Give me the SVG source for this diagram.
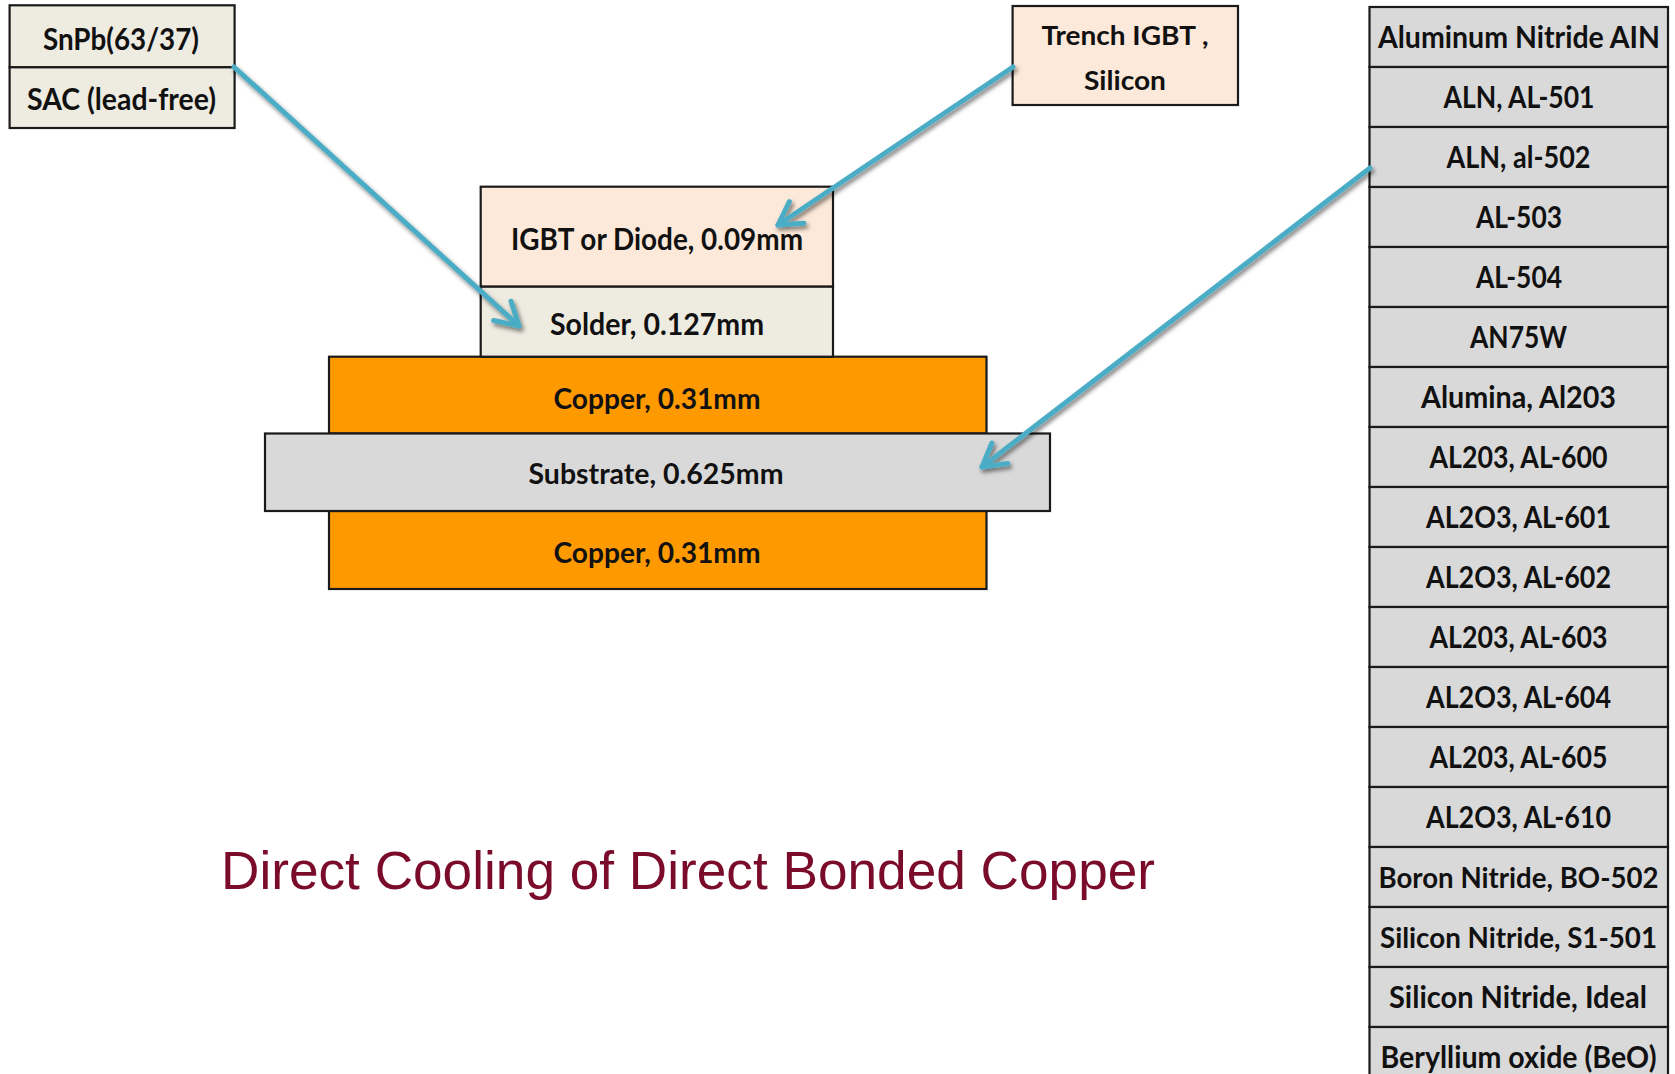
<svg xmlns="http://www.w3.org/2000/svg" width="1675" height="1074" viewBox="0 0 1675 1074">
<style>
  .box { stroke: #1a1a1a; stroke-width: 2.2; }
  .beige { fill: #eeece1; }
  .peach { fill: #fde9d9; }
  .copper { fill: #ff9900; }
  .grey { fill: #d9d9d9; }
  .lbl { font-family: Lato, "Liberation Sans", sans-serif; font-weight: 700; fill: #111; text-anchor: middle; }
  .f31 { font-size: 31px; }
  .f28 { font-size: 28px; }
  .f27 { font-size: 27px; }
  .f30 { font-size: 30px; }
  .f29 { font-size: 29px; }
  .conn { fill: none; stroke: #4bacc6; stroke-width: 5; stroke-linecap: round; }
  .title { font-family: "Liberation Sans", Arial, sans-serif; font-size: 53.5px; fill: #7a0b2a; }
</style>
<defs>
  <marker id="ah" markerUnits="userSpaceOnUse" markerWidth="60" markerHeight="60" viewBox="-30 -30 60 60" refX="0" refY="0" orient="auto" overflow="visible">
    <path d="M-22.5,-13 L0,0 L-22.5,13" fill="none" stroke="#4bacc6" stroke-width="5" stroke-linecap="round" stroke-linejoin="round"/>
  </marker>
  <filter id="shadow" x="-20%" y="-20%" width="140%" height="140%">
    <feDropShadow dx="2" dy="3" stdDeviation="2" flood-color="#000" flood-opacity="0.5"/>
  </filter>
</defs>
<rect x="0" y="0" width="1675" height="1074" fill="#fff"/>

<g id="solder-options">
  <rect class="box beige" x="9.6" y="5.3" width="225" height="62"/>
  <rect class="box beige" x="9.6" y="67.3" width="225" height="60.7"/>
  <text class="lbl f31" x="121" y="49.5" textLength="156" lengthAdjust="spacingAndGlyphs">SnPb(63/37)</text>
  <text class="lbl f31" x="121.5" y="110" textLength="189" lengthAdjust="spacingAndGlyphs">SAC (lead-free)</text>
</g>

<g id="trench-igbt">
  <rect class="box peach" x="1012.6" y="6" width="225.4" height="99"/>
  <text class="lbl f27" x="1125" y="45" textLength="167" lengthAdjust="spacingAndGlyphs">Trench IGBT ,</text>
  <text class="lbl f27" x="1125" y="90" textLength="82" lengthAdjust="spacingAndGlyphs">Silicon</text>
</g>

<g id="copper-top">
  <rect class="box copper" x="329" y="356.7" width="657.5" height="76.8"/>
  <text class="lbl f28" x="657" y="408.5" textLength="207" lengthAdjust="spacingAndGlyphs">Copper, 0.31mm</text>
</g>

<g id="copper-bottom">
  <rect class="box copper" x="329" y="511" width="657.5" height="78"/>
  <text class="lbl f28" x="657" y="563" textLength="207" lengthAdjust="spacingAndGlyphs">Copper, 0.31mm</text>
</g>

<g id="substrate">
  <rect class="box grey" x="265" y="433.5" width="785" height="77.5"/>
  <text class="lbl f28" x="656" y="484" textLength="255" lengthAdjust="spacingAndGlyphs">Substrate, 0.625mm</text>
</g>

<g id="igbt">
  <rect class="box peach" x="480.7" y="186.7" width="352.3" height="100"/>
  <text class="lbl f31" x="657" y="249.5" textLength="292" lengthAdjust="spacingAndGlyphs">IGBT or Diode, 0.09mm</text>
</g>

<g id="solder">
  <rect class="box beige" x="480.7" y="286.7" width="352.3" height="70"/>
  <text class="lbl f31" x="657" y="335" textLength="214" lengthAdjust="spacingAndGlyphs">Solder, 0.127mm</text>
</g>

<g id="substrate-materials">
  <g class="box grey">
    <rect x="1369.5" y="7" width="298.5" height="60"/>
    <rect x="1369.5" y="67" width="298.5" height="60"/>
    <rect x="1369.5" y="127" width="298.5" height="60"/>
    <rect x="1369.5" y="187" width="298.5" height="60"/>
    <rect x="1369.5" y="247" width="298.5" height="60"/>
    <rect x="1369.5" y="307" width="298.5" height="60"/>
    <rect x="1369.5" y="367" width="298.5" height="60"/>
    <rect x="1369.5" y="427" width="298.5" height="60"/>
    <rect x="1369.5" y="487" width="298.5" height="60"/>
    <rect x="1369.5" y="547" width="298.5" height="60"/>
    <rect x="1369.5" y="607" width="298.5" height="60"/>
    <rect x="1369.5" y="667" width="298.5" height="60"/>
    <rect x="1369.5" y="727" width="298.5" height="60"/>
    <rect x="1369.5" y="787" width="298.5" height="60"/>
    <rect x="1369.5" y="847" width="298.5" height="60"/>
    <rect x="1369.5" y="907" width="298.5" height="60"/>
    <rect x="1369.5" y="967" width="298.5" height="60"/>
    <rect x="1369.5" y="1027" width="298.5" height="60"/>
  </g>
  <g class="lbl f30">
    <text x="1519" y="47.5" textLength="282" lengthAdjust="spacingAndGlyphs">Aluminum Nitride AIN</text>
    <text x="1519" y="107.5" textLength="151" lengthAdjust="spacingAndGlyphs">ALN, AL-501</text>
    <text x="1518.5" y="167.5" textLength="144" lengthAdjust="spacingAndGlyphs">ALN, al-502</text>
    <text x="1519" y="227.5" textLength="86" lengthAdjust="spacingAndGlyphs">AL-503</text>
    <text x="1519" y="287.5" textLength="86" lengthAdjust="spacingAndGlyphs">AL-504</text>
    <text x="1518.5" y="347.5" textLength="97" lengthAdjust="spacingAndGlyphs">AN75W</text>
    <text x="1518.5" y="407.5" textLength="195" lengthAdjust="spacingAndGlyphs">Alumina, Al203</text>
    <text x="1518.5" y="467.5" textLength="178" lengthAdjust="spacingAndGlyphs">AL203, AL-600</text>
    <text x="1518.5" y="527.5" textLength="185" lengthAdjust="spacingAndGlyphs">AL2O3, AL-601</text>
    <text x="1518.5" y="587.5" textLength="185" lengthAdjust="spacingAndGlyphs">AL2O3, AL-602</text>
    <text x="1518.5" y="647.5" textLength="178" lengthAdjust="spacingAndGlyphs">AL203, AL-603</text>
    <text x="1518.5" y="707.5" textLength="185" lengthAdjust="spacingAndGlyphs">AL2O3, AL-604</text>
    <text x="1518.5" y="767.5" textLength="178" lengthAdjust="spacingAndGlyphs">AL203, AL-605</text>
    <text x="1518.5" y="827.5" textLength="185" lengthAdjust="spacingAndGlyphs">AL2O3, AL-610</text>
    <text class="f29" x="1518.5" y="887.5" textLength="280" lengthAdjust="spacingAndGlyphs">Boron Nitride, BO-502</text>
    <text class="f29" x="1518.5" y="947.5" textLength="277" lengthAdjust="spacingAndGlyphs">Silicon Nitride, S1-501</text>
    <text x="1518" y="1007.5" textLength="258" lengthAdjust="spacingAndGlyphs">Silicon Nitride, Ideal</text>
    <text x="1518.5" y="1067.5" textLength="276" lengthAdjust="spacingAndGlyphs">Beryllium oxide (BeO)</text>
  </g>
</g>

<g id="connectors" filter="url(#shadow)">
  <line class="conn" x1="234" y1="67" x2="519" y2="326" marker-end="url(#ah)"/>
  <line class="conn" x1="1013" y1="67" x2="778" y2="225" marker-end="url(#ah)"/>
  <line class="conn" x1="1370" y1="168" x2="982" y2="467" marker-end="url(#ah)"/>
</g>

<g id="title">
  <text class="title" x="221" y="888.5" textLength="934" lengthAdjust="spacingAndGlyphs">Direct Cooling of Direct Bonded Copper</text>
</g>
</svg>
